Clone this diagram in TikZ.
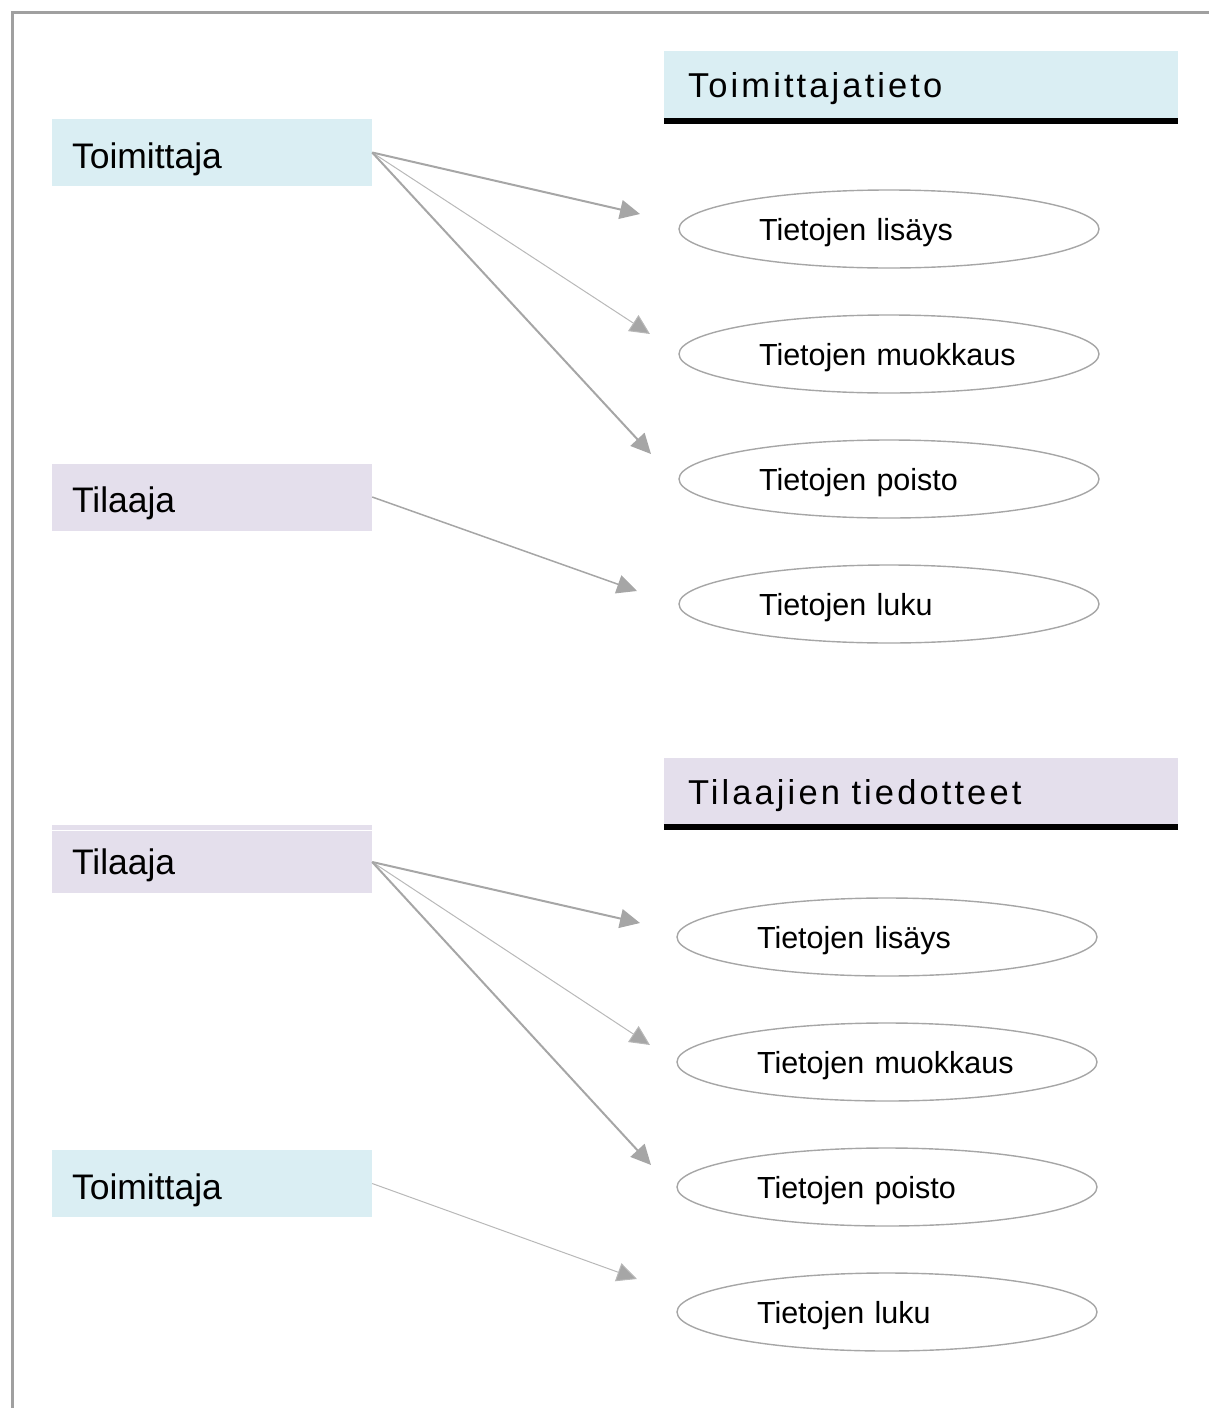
\documentclass[tikz,border=0pt]{standalone}
\usepackage{fontspec}
\setmainfont{Liberation Sans}
\usetikzlibrary{arrows.meta,shapes.geometric}
\definecolor{lblue}{HTML}{DAEEF3}
\definecolor{lav}{HTML}{E4DFEC}
\definecolor{agray}{HTML}{A6A6A6}
\definecolor{bgray}{HTML}{A0A0A0}
\tikzset{
  actor/.style={rectangle, minimum width=320pt, minimum height=67pt, inner xsep=20pt, inner ysep=0pt,
    text width=280pt, align=left, text height=31pt, text depth=0pt, font=\fontsize{35.5}{40}\selectfont},
  header/.style={rectangle, minimum width=514pt, minimum height=70pt, inner xsep=24pt, inner ysep=0pt,
    text width=466pt, align=left, text height=23pt, text depth=0pt,
    font=\fontsize{34.5}{40}\selectfont\addfontfeature{LetterSpace=9}},
  bar/.style={line width=5.5pt, black},
  oval/.style={ellipse, draw=agray, line width=1.4pt, minimum width=420pt, minimum height=78pt,
    inner sep=0pt, text width=260pt, align=left, text height=22pt, text depth=0pt,
    font=\fontsize{30.5}{34}\selectfont},
  thickarr/.style={draw=agray, line width=2pt, -{Triangle[length=20pt,width=19pt]}},
  medarr/.style={draw=agray, line width=1.5pt, -{Triangle[length=20pt,width=19pt]}},
  thinarr/.style={draw=agray!80, line width=1pt, -{Triangle[length=20pt,width=19pt,fill=agray]}},
}
\begin{document}
\begin{tikzpicture}[x=1pt,y=-1pt]
\useasboundingbox (0,0) rectangle (1209,1408);
% page frame
\draw[bgray, line width=3pt] (12,1408) -- (12,12) -- (1209,12);

% ---------- top section ----------
\node[header, fill=lblue] (h1) at (921,86) {Toimittajatieto};
\draw[bar] (h1.south west) -- (h1.south east);

\node[actor, fill=lblue] (t1) at (212,152.5) {Toimittaja};
\node[actor, fill=lav] (s1) at (212,497) {Tilaaja};

\node[oval] (e1) at (889,229) {Tietojen lisäys};
\node[oval] (e2) at (889,354) {Tietojen muokkaus};
\node[oval] (e3) at (889,479) {Tietojen poisto};
\node[oval] (e4) at (889,604) {Tietojen luku};

\coordinate (a1) at (640,214);
\coordinate (a2) at (650,334);
\coordinate (a3) at (651,454);
\coordinate (a4) at (637,591);
\draw[thickarr] (t1.east) -- (a1);
\draw[thinarr] (t1.east) -- (a2);
\draw[thickarr] (t1.east) -- (a3);
\draw[medarr] (s1.east) -- (a4);

% ---------- bottom section ----------
\node[header, fill=lav, minimum height=69pt] (h2) at (921,792.5) {Tilaajien tiedotteet};
\draw[bar] (h2.south west) -- (h2.south east);

\node[actor, fill=lav, minimum height=68pt] (s2) at (212,859) {Tilaaja};
\draw[white, line width=1pt] (s2.north west) ++(0,6) -- ++(320,0);
\node[actor, fill=lblue] (t2) at (212,1183.5) {Toimittaja};

\node[oval] (f1) at (887,937) {Tietojen lisäys};
\node[oval] (f2) at (887,1062) {Tietojen muokkaus};
\node[oval] (f3) at (887,1187) {Tietojen poisto};
\node[oval] (f4) at (887,1312) {Tietojen luku};

\coordinate (b1) at (640,923);
\coordinate (b2) at (650,1045);
\coordinate (b3) at (651,1165);
\coordinate (b4) at (637,1279);
\draw[thickarr] ([yshift=-3pt]s2.east) -- (b1);
\draw[thinarr] ([yshift=-3pt]s2.east) -- (b2);
\draw[thickarr] ([yshift=-3pt]s2.east) -- (b3);
\draw[thinarr] (t2.east) -- (b4);
\end{tikzpicture}
\end{document}
